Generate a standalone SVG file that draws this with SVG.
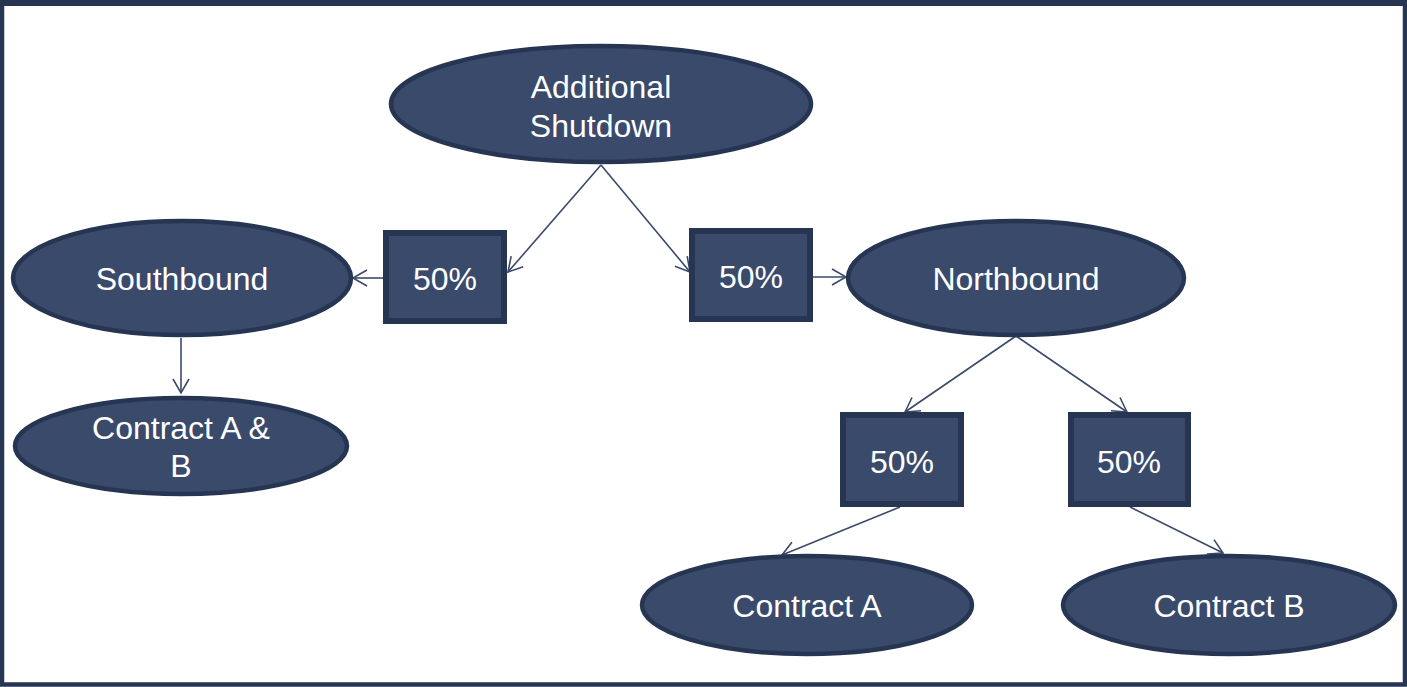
<svg xmlns="http://www.w3.org/2000/svg" width="1407" height="687" viewBox="0 0 1407 687">
<style>
.node{fill:#3a4a6b;stroke:#263552;stroke-width:4.5}
.box{fill:#3a4a6b;stroke:#263552;stroke-width:6}
.t{font-family:"Liberation Sans",Arial,sans-serif;font-size:32px;fill:#ffffff;text-anchor:middle}
.c{fill:none;stroke:#3a4a6b;stroke-width:1.6;marker-end:url(#arr)}
</style>
<defs>
<marker id="arr" markerWidth="20" markerHeight="20" refX="15" refY="10" orient="auto" markerUnits="userSpaceOnUse">
<path d="M1,2 L15,10 L1,18" fill="none" stroke="#3a4a6b" stroke-width="1.6"/>
</marker>
</defs>
<rect x="0" y="0" width="1407" height="687" fill="#ffffff"/>
<rect x="2" y="3" width="1403" height="681.5" fill="none" stroke="#263552" stroke-width="4.5"/>
<rect x="0" y="0" width="1407" height="6" fill="#263552"/>
<g id="connectors">
<line class="c" x1="601" y1="165" x2="508" y2="272"/>
<line class="c" x1="601" y1="165" x2="690" y2="272"/>
<line class="c" x1="384" y1="278" x2="353" y2="278"/>
<line class="c" x1="813" y1="277" x2="846" y2="277"/>
<line class="c" x1="181" y1="338" x2="181" y2="393"/>
<line class="c" x1="1016" y1="336" x2="905" y2="412"/>
<line class="c" x1="1016" y1="336" x2="1127" y2="412"/>
<line class="c" x1="900" y1="507" x2="782" y2="555"/>
<line class="c" x1="1130" y1="507" x2="1223" y2="553"/>
</g>
<g id="additional-shutdown">
<ellipse class="node" cx="601" cy="104" rx="210" ry="58"/>
<text class="t" x="601" y="98">Additional</text>
<text class="t" x="601" y="137">Shutdown</text>
</g>
<g id="southbound">
<ellipse class="node" cx="182" cy="278" rx="169" ry="57"/>
<text class="t" x="182" y="290">Southbound</text>
</g>
<g id="contract-ab">
<ellipse class="node" cx="181" cy="446" rx="166" ry="48"/>
<text class="t" x="181" y="439">Contract A &amp;</text>
<text class="t" x="181" y="477">B</text>
</g>
<g id="northbound">
<ellipse class="node" cx="1016" cy="278" rx="168" ry="57"/>
<text class="t" x="1016" y="290">Northbound</text>
</g>
<g id="contract-a">
<ellipse class="node" cx="807" cy="605" rx="165" ry="49"/>
<text class="t" x="807" y="617">Contract A</text>
</g>
<g id="contract-b">
<ellipse class="node" cx="1229" cy="605" rx="166" ry="49"/>
<text class="t" x="1229" y="617">Contract B</text>
</g>
<g id="p-south">
<rect class="box" x="386" y="233" width="118" height="88"/>
<text class="t" x="445" y="290">50%</text>
</g>
<g id="p-north">
<rect class="box" x="692" y="231" width="118" height="88"/>
<text class="t" x="751" y="288">50%</text>
</g>
<g id="p-a">
<rect class="box" x="843" y="415" width="118" height="89"/>
<text class="t" x="902" y="473">50%</text>
</g>
<g id="p-b">
<rect class="box" x="1071" y="415" width="117" height="89"/>
<text class="t" x="1129" y="473">50%</text>
</g>
</svg>
